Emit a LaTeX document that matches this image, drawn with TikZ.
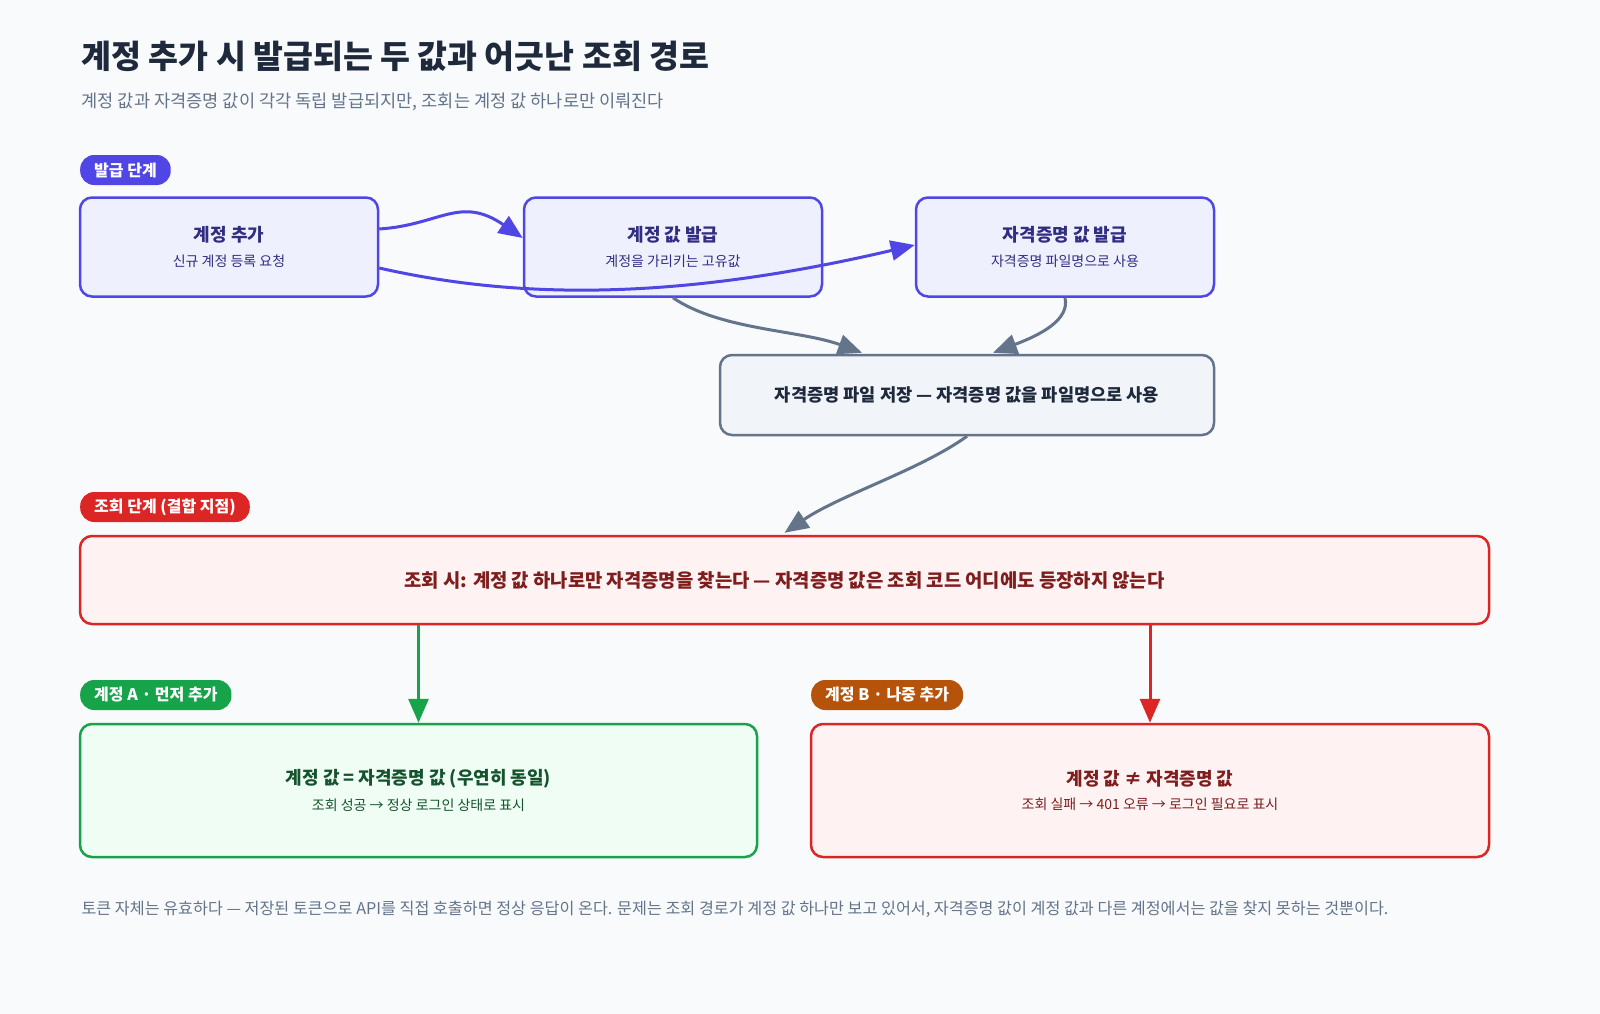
\documentclass[tikz,border=0pt]{standalone}
\usepackage{fontspec}
\setmainfont{Noto Sans CJK KR}
\usetikzlibrary{arrows.meta,calc}
\definecolor{bgc}{HTML}{F8FAFC}
\definecolor{ink}{HTML}{1E293B}
\definecolor{muted}{HTML}{64748B}
\definecolor{indig}{HTML}{4F46E5}
\definecolor{indigfill}{HTML}{EEF0FE}
\definecolor{indigtext}{HTML}{312E81}
\definecolor{slate}{HTML}{64748B}
\definecolor{slatefill}{HTML}{F1F5F9}
\definecolor{redc}{HTML}{DC2626}
\definecolor{redfill}{HTML}{FEF2F2}
\definecolor{redtext}{HTML}{7F1D1D}
\definecolor{grn}{HTML}{16A34A}
\definecolor{grnfill}{HTML}{F0FDF4}
\definecolor{grntext}{HTML}{14532D}
\definecolor{orng}{HTML}{B45309}
\tikzset{
  box/.style={draw, rounded corners=12pt, line width=2.5pt, minimum width=298pt, minimum height=99pt, align=center},
  pill/.style={rounded corners=14pt, minimum height=30pt, inner xsep=14pt, text=white, font=\fontsize{16}{19}\selectfont\bfseries},
  flow/.style={line width=3pt, -{Triangle[length=24pt,width=20pt]}},
}
\newcommand{\boxtext}[2]{{\fontsize{18}{23}\selectfont\bfseries #1}\\[10pt]{\fontsize{14}{17}\selectfont #2}}
\begin{document}
\begin{tikzpicture}[x=1pt,y=-1pt]
  \fill[bgc] (0,0) rectangle (1600,1014);
  \useasboundingbox (0,0) rectangle (1600,1014);
  % heading
  \node[anchor=west, text=ink, font=\fontsize{32.5}{38}\selectfont\bfseries] (title) at (78,56) {계정 추가 시 발급되는 두 값과 어긋난 조회 경로};
  \node[anchor=west, text=muted, font=\fontsize{17.6}{21}\selectfont] (subtitle) at (78,102) {계정 값과 자격증명 값이 각각 독립 발급되지만, 조회는 계정 값 하나로만 이뤄진다};
  % issue stage
  \node[pill, fill=indig, anchor=west] (issuetag) at (80,170) {발급 단계};
  \node[box, draw=indig, fill=indigfill, text=indigtext] (add) at (229,247) {\boxtext{계정 추가}{신규 계정 등록 요청}};
  \node[box, draw=indig, fill=indigfill, text=indigtext] (acct) at (673,247) {\boxtext{계정 값 발급}{계정을 가리키는 고유값}};
  \node[box, draw=indig, fill=indigfill, text=indigtext] (cred) at (1065,247) {\boxtext{자격증명 값 발급}{자격증명 파일명으로 사용}};
  \node[box, draw=slate, fill=slatefill, text=ink, minimum width=494pt, minimum height=80pt, font=\fontsize{17.6}{21}\selectfont\bfseries] (store) at (967,395) {자격증명 파일 저장 — 자격증명 값을 파일명으로 사용};
  % lookup stage
  \node[pill, fill=redc, anchor=west] (looktag) at (80,507) {조회 단계 (결합 지점)};
  \node[box, draw=redc, fill=redfill, text=redtext, minimum width=1409pt, minimum height=88pt, font=\fontsize{18.8}{23}\selectfont\bfseries] (lookup) at (784.5,580) {조회 시: 계정 값 하나로만 자격증명을 찾는다 — 자격증명 값은 조회 코드 어디에도 등장하지 않는다};
  \node[pill, fill=grn, anchor=west] (atag) at (80,695) {계정 A · 먼저 추가};
  \node[pill, fill=orng, anchor=west] (btag) at (811,695) {계정 B · 나중 추가};
  \node[box, draw=grn, fill=grnfill, text=grntext, minimum width=677pt, minimum height=133pt] (caseA) at (418.5,790.5) {\boxtext{계정 값 = 자격증명 값 (우연히 동일)}{조회 성공 → 정상 로그인 상태로 표시}};
  \node[box, draw=redc, fill=redfill, text=redtext, minimum width=678pt, minimum height=133pt] (caseB) at (1150,790.5) {\boxtext{계정 값 ≠ 자격증명 값}{조회 실패 → 401 오류 → 로그인 필요로 표시}};
  % connectors
  \draw[flow, indig] ($(add.east)+(0,-18)$) .. controls (440,225) and (460,195) .. ($(acct.west)+(0,-9)$);
  \draw[flow, indig] ($(add.east)+(0,21)$) .. controls (520,300) and (680,300) .. ($(cred.west)+(0,-2)$);
  \draw[flow, slate] (acct.south) .. controls (720,330) and (800,330) .. ($(store.north)+(-105,-1)$);
  \draw[flow, slate] (cred.south) .. controls (1070,320) and (1040,335) .. ($(store.north)+(26,-1)$);
  \draw[flow, slate] (store.south) .. controls (920,470) and (840,495) .. ($(lookup.north)+(0,-2)$);
  \draw[flow, grn] (lookup.south -| caseA.north) -- (caseA.north);
  \draw[flow, redc] (lookup.south -| caseB.north) -- (caseB.north);
  % footer
  \node[anchor=west, text=muted, font=\fontsize{16.2}{19}\selectfont] (note) at (78,909) {토큰 자체는 유효하다 — 저장된 토큰으로 API를 직접 호출하면 정상 응답이 온다. 문제는 조회 경로가 계정 값 하나만 보고 있어서, 자격증명 값이 계정 값과 다른 계정에서는 값을 찾지 못하는 것뿐이다.};
\end{tikzpicture}
\end{document}
